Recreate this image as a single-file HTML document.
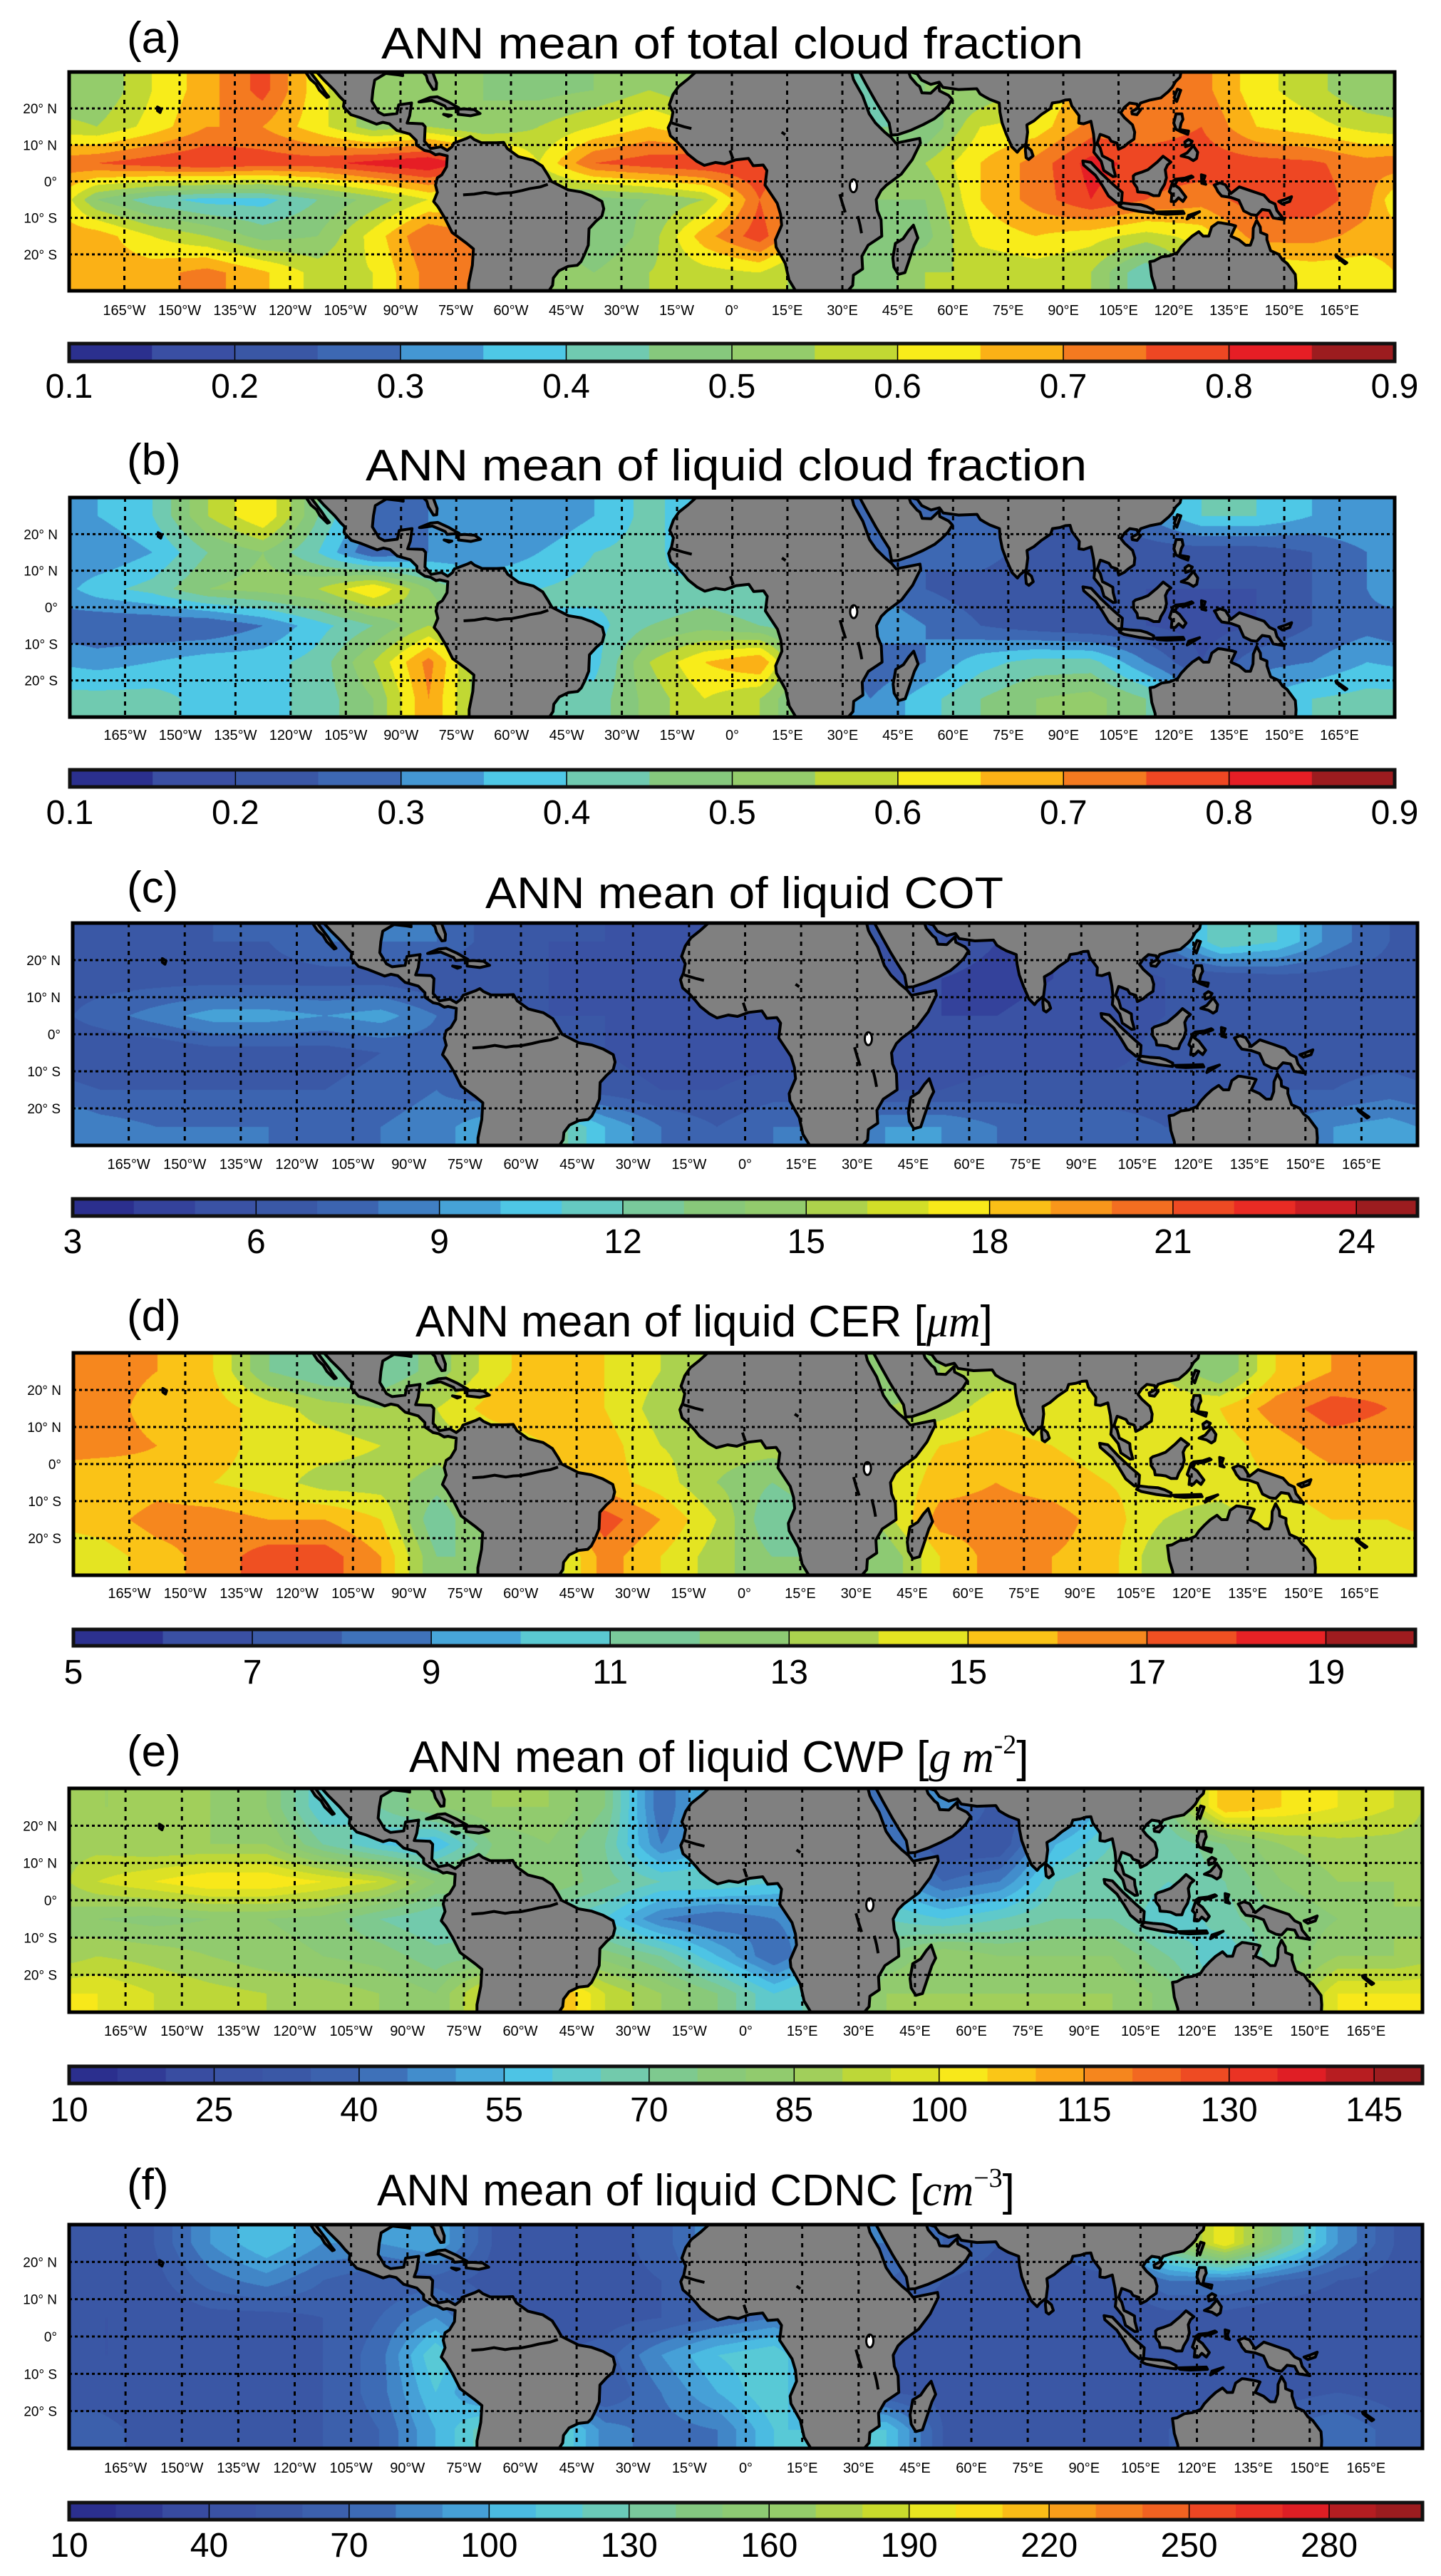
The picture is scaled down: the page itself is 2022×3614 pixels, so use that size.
<!DOCTYPE html>
<html><head><meta charset="utf-8">
<style>
body{margin:0;background:#fff}
#root{position:relative;width:2022px;height:3614px;background:#fff;overflow:hidden}
canvas{position:absolute}
#ov{position:absolute;left:0;top:0}
text{font-family:"Liberation Sans","DejaVu Sans",sans-serif;fill:#000}
</style></head>
<body>
<div id="root">
<svg id="ov" width="2022" height="3614" xmlns="http://www.w3.org/2000/svg"></svg>
</div>
<script>
// ---------- DATA ----------
const lonCenters = [-172.5,-157.5,-142.5,-127.5,-112.5,-97.5,-82.5,-67.5,-52.5,-37.5,-22.5,-7.5,7.5,22.5,37.5,52.5,67.5,82.5,97.5,112.5,127.5,142.5,157.5,172.5];
const latCenters = [25,15,5,-5,-15,-25];

const totalCloudFraction = [
[.5,.6,.68,.77,.62,.52,.5,.5,.48,.5,.55,.5,.5,.45,.4,.5,.5,.6,.68,.72,.72,.62,.57,.5],
[.55,.62,.7,.7,.62,.52,.55,.5,.55,.6,.65,.6,.6,.5,.45,.45,.6,.62,.72,.72,.75,.65,.62,.58],
[.75,.78,.8,.78,.78,.82,.85,.75,.6,.75,.78,.8,.8,.7,.55,.55,.65,.72,.82,.78,.78,.77,.76,.72],
[.5,.42,.38,.38,.45,.52,.6,.6,.5,.48,.5,.55,.75,.6,.5,.5,.65,.72,.8,.75,.72,.78,.78,.72],
[.68,.6,.55,.48,.5,.62,.75,.7,.5,.45,.52,.68,.78,.6,.45,.48,.62,.65,.62,.58,.62,.72,.72,.68],
[.68,.68,.72,.66,.58,.6,.72,.7,.55,.5,.55,.58,.6,.5,.45,.55,.55,.57,.55,.4,.6,.6,.62,.62]];
const liquidCloudFraction = [
[.35,.4,.55,.65,.45,.3,.3,.35,.3,.35,.42,.35,.35,.3,.25,.3,.25,.25,.25,.3,.4,.4,.35,.35],
[.3,.35,.45,.5,.4,.25,.3,.3,.35,.4,.42,.35,.35,.3,.25,.25,.28,.22,.2,.22,.22,.22,.25,.3],
[.38,.42,.5,.52,.55,.65,.5,.4,.4,.42,.4,.42,.4,.35,.3,.25,.22,.2,.2,.2,.2,.2,.25,.3],
[.25,.25,.25,.3,.38,.45,.55,.45,.4,.38,.45,.48,.45,.4,.35,.3,.25,.22,.2,.2,.18,.2,.25,.28],
[.33,.35,.38,.38,.42,.55,.72,.5,.4,.38,.55,.65,.7,.4,.25,.3,.38,.42,.42,.3,.2,.28,.3,.35],
[.42,.42,.38,.38,.42,.5,.7,.5,.4,.42,.52,.6,.55,.4,.3,.38,.45,.5,.52,.45,.3,.35,.4,.42]];
const liquidCOT = [
[6.5,6.5,7,7,8,8,8,6.5,6,6,5.5,6,6,6,6,6,5,5,6,8,12,11,8.5,7],
[6.5,6.5,6.5,6.5,6.5,6.5,6,6,6,5.5,5,5.5,5.5,5,5,5,4.5,5,5,6,6,6.5,6.5,6.5],
[7.5,8.5,9.5,9.5,9,9.5,8,7,6,6,6,5.5,5,5,5,5,5,5.5,5.5,6,6,6,6,6.5],
[6,6,6.5,6.5,6.5,7,7.5,7,6.5,6,5.5,5.5,5.5,5.5,5.5,5,5.5,5.5,5.5,6.5,6,6.5,6.5,6.5],
[7,7,7,7,7,7.5,8,7,6.5,6.5,6,6,6.5,6.5,6,6,6.5,6.5,6.5,6.5,6,7,7,7.5],
[8.5,8,8,8,7.5,8,8.5,10,13,10,8,7,8,8,9,9,8,7.5,7.5,7,7,8,9,9.5]];
const liquidCER = [
[16.5,16,15,12,11,11,12.5,14.5,16,15,14,13,13,12,12,13,13.5,14,14,14,12,15,16,16.5],
[16.5,15.5,15.5,14.5,13.5,13,14,15.5,16,15,13.5,13,13,13,13,13.5,14.5,14,14.5,14.5,15,16.5,17.5,17],
[16.5,16,15.5,14.5,14.5,14,13.5,14,15,15.5,14,13.5,13.5,14,14,15,15.5,15,14.5,14,14.5,15.5,16.5,16.5],
[15,15.5,15,14.5,13.5,13.5,12.5,14,15,15.5,14.5,13,12,13,14,15.5,16,15.5,15,14.5,14.5,15,15.5,15.5],
[15.5,16.5,16.5,16,16,15,11,14,16,17.5,16,14,11,12,13.5,16.5,16.5,16.5,15.5,14,13.5,14.5,15,15],
[14.5,15.5,16.5,17.5,17.5,16,12,12,13,16.5,15,13.5,12,12,12,15,16.5,16,15.5,13,13,14.5,14.5,14.5]];
const liquidCWP = [
[85,85,85,80,60,70,80,85,85,75,40,60,60,50,40,50,30,40,60,75,110,105,100,95],
[88,85,85,85,70,60,55,75,80,70,45,55,55,50,45,30,30,55,65,65,75,85,88,88],
[95,100,105,105,100,95,80,80,80,72,65,65,60,55,55,40,45,65,70,65,70,80,85,85],
[80,78,80,80,78,70,65,65,65,60,45,40,45,50,65,60,65,70,70,60,68,75,80,85],
[90,88,85,82,80,78,72,75,80,78,70,55,40,55,75,85,80,80,80,70,60,75,85,85],
[100,95,92,90,88,85,80,100,115,95,85,75,60,70,85,85,85,85,85,78,60,80,100,100]];
const liquidCDNC = [
[55,60,90,110,90,90,100,60,55,55,65,90,90,80,80,70,60,60,80,150,200,140,90,60],
[55,55,75,85,70,60,65,55,55,55,60,80,80,70,70,60,55,55,55,80,80,70,60,55],
[50,50,55,55,60,70,90,60,50,55,60,70,80,65,60,55,50,50,50,55,55,50,50,50],
[50,50,50,55,60,75,120,80,60,65,90,110,120,80,55,55,50,50,50,60,60,55,50,50],
[55,50,50,55,60,75,110,80,60,60,80,100,120,80,60,55,55,50,50,55,55,55,60,55],
[65,55,55,55,60,70,100,130,130,85,75,80,110,110,110,60,55,55,55,60,70,70,80,65]];

const ticksA = [0.1,0.2,0.3,0.4,0.5,0.6,0.7,0.8,0.9];
const ticksC = [3,6,9,12,15,18,21,24];
const ticksD = [5,7,9,11,13,15,17,19];
const ticksE = [10,25,40,55,70,85,100,115,130,145];
const ticksF = [10,40,70,100,130,160,190,220,250,280];
const lonTickValues = [-165,-150,-135,-120,-105,-90,-75,-60,-45,-30,-15,0,15,30,45,60,75,90,105,120,135,150,165];
const latTickValues = [20,10,0,-10,-20];

// ---------- COLORMAP ----------
const cmT = [0.03,0.094,0.156,0.22,0.281,0.344,0.406,0.47,0.54,0.6,0.656,0.719,0.781,0.844,0.906,0.969];
const cmC = ['#2b2f8e','#3a4fa3','#3a57a5','#3d68b3','#4497d3','#4ec8e6','#70cab0','#86c87c','#96cc68','#c6d92d','#f8ec1a','#fbb116','#f47a20','#ee4723','#e61e25','#9c1c1f'];
function hex(h){return [parseInt(h.substr(1,2),16),parseInt(h.substr(3,2),16),parseInt(h.substr(5,2),16)];}
function cmap(t){
  if(t<=cmT[0]) return hex(cmC[0]);
  for(let i=1;i<cmT.length;i++){ if(t<=cmT[i]){const f=(t-cmT[i-1])/(cmT[i]-cmT[i-1]);const a=hex(cmC[i-1]),b=hex(cmC[i]);return [0,1,2].map(k=>Math.round(a[k]+(b[k]-a[k])*f));}}
  return hex(cmC[cmC.length-1]);
}

// ---------- PANELS (layout) ----------
const panels = [
 {key:'a',grid:totalCloudFraction,vmin:0.1,vmax:0.9,step:0.05,ticks:ticksA,fmt:v=>v.toFixed(1),L:97,R:1957,T:101,B:408,titleY:82,titleX:535,titleW:985,title:'ANN mean of total cloud fraction',lonY:442,cbT:482,cbB:507,cbY:558},
 {key:'b',grid:liquidCloudFraction,vmin:0.1,vmax:0.9,step:0.05,ticks:ticksA,fmt:v=>v.toFixed(1),L:98,R:1957,T:698,B:1006,titleY:674,titleX:513,titleW:1012,title:'ANN mean of liquid cloud fraction',lonY:1038,cbT:1080,cbB:1104,cbY:1156},
 {key:'c',grid:liquidCOT,vmin:3,vmax:25,step:1,ticks:ticksC,fmt:v=>String(v),L:102,R:1989,T:1295,B:1607,titleY:1274,titleX:681,titleW:727,title:'ANN mean of liquid COT',lonY:1640,cbT:1682,cbB:1706,cbY:1758},
 {key:'d',grid:liquidCER,vmin:5,vmax:20,step:1,ticks:ticksD,fmt:v=>String(v),L:103,R:1986,T:1898,B:2210,titleY:1875,titleX:583,title:'ANN mean of liquid CER ',unit:'d',lonY:2242,cbT:2286,cbB:2309,cbY:2362},
 {key:'e',grid:liquidCWP,vmin:10,vmax:150,step:5,ticks:ticksE,fmt:v=>String(v),L:97,R:1996,T:2509,B:2823,titleY:2486,titleX:574,title:'ANN mean of liquid CWP ',unit:'e',lonY:2856,cbT:2899,cbB:2923,cbY:2976},
 {key:'f',grid:liquidCDNC,vmin:10,vmax:300,step:10,ticks:ticksF,fmt:v=>String(v),L:97,R:1996,T:3121,B:3435,titleY:3094,titleX:529,title:'ANN mean of liquid CDNC ',unit:'f',lonY:3469,cbT:3511,cbB:3535,cbY:3587}
];

// ---------- COASTLINES (geometry) ----------
const land = {
 baja:[[-115.8,30],[-114.5,28],[-113,26.7],[-112,25],[-110,23],[-109.5,23.2],[-110.3,24.2],[-111.5,26],[-113,28],[-114.5,30]],
 americas:[[-112.8,30],[-89.5,30],[-89.4,29],[-90.5,29.2],[-94,29.6],[-97,27.8],[-97.5,25],[-97.8,22],[-96,19],[-94.5,18.2],[-91,18.6],[-90.5,21],[-87,21.5],[-87.5,18],[-88.2,16],[-84,15.8],[-83.3,15],[-83.5,11],[-81.8,9],[-79,9.5],[-77.3,8.5],[-76,9.5],[-75.5,10.5],[-72,11.8],[-71,12.3],[-70,11.5],[-68,10.6],[-64,10.6],[-62,10.7],[-61,9],[-58,6.8],[-54,5.8],[-51.5,4.2],[-50,1.8],[-49,0],[-44.5,-2.3],[-41,-2.9],[-38,-4],[-35.3,-5.5],[-34.8,-7.5],[-35.3,-9.5],[-37,-11],[-38.8,-13],[-39,-17.5],[-40,-20],[-41,-22],[-42,-23],[-44.5,-23.3],[-47,-24.5],[-48.5,-26.5],[-48.7,-28.5],[-49.7,-30],[-71.5,-30],[-71.5,-28],[-70.5,-23],[-70.2,-18.5],[-72,-17],[-76,-14],[-78,-10],[-79.8,-7],[-81,-5.5],[-80,-3],[-80.5,-1],[-80,1],[-78.8,1.8],[-77.5,4],[-77.3,7],[-79.5,7.5],[-80.5,7.3],[-82,8.2],[-83.5,8.5],[-85.7,10],[-85.7,11.2],[-87.5,13],[-91,14],[-93,15.8],[-94.8,16.2],[-96.5,15.7],[-98,16.3],[-101,17.5],[-103.5,18.3],[-105.5,20.5],[-105.3,22],[-106.5,23.2],[-108,25],[-109.5,26.5],[-111,28]],
 florida:[[-84,30],[-83,29],[-82.6,27.5],[-81.2,25.2],[-80.3,25.3],[-80.2,27],[-81.3,30]],
 cuba:[[-85,21.8],[-82,23],[-80,23.2],[-77,21.8],[-74.2,20.2],[-77.5,19.9],[-78,20.7],[-81.5,22.2],[-84.5,21.8]],
 hispaniola:[[-74.4,19.8],[-72.8,19.9],[-70,19.7],[-68.4,18.6],[-71,18],[-74.4,18.4]],
 jamaica:[[-78.3,18.4],[-76.2,18.1],[-77,17.8]],
 hawaii:[[-156,20.4],[-155,19.8],[-155.3,18.9],[-156,19.4]],
 africa:[[-9.8,30],[32.5,30],[33,28],[33.5,27],[35.5,23.5],[37.3,18.5],[39,16],[41.5,13.5],[43.3,12],[44.5,10.5],[51,11.8],[51.2,10.5],[49,6],[46,2],[42,-1],[40.5,-2.5],[39.2,-5],[39.5,-8],[40.5,-10.5],[40.7,-15],[37,-17.5],[35.3,-20.5],[35.5,-24],[33,-25.7],[32.8,-28.5],[31.5,-30],[17.3,-30],[15.5,-27],[14.5,-22.5],[12,-18],[11.8,-16],[13.5,-12],[13.2,-9],[12.3,-6],[9,-1],[9.5,3],[8.5,4.5],[5.8,4.3],[4.5,6.3],[1,5.9],[-2,4.8],[-4.5,5.2],[-7.5,4.4],[-9.5,5.5],[-12,7.5],[-13.2,9],[-15,11],[-16.7,12.5],[-17.3,14.7],[-16.5,16.5],[-16,19],[-17,21],[-16,23.8],[-14.5,26],[-12,28]],
 madagascar:[[49.3,-12],[50.5,-15.5],[49.5,-17.5],[48,-22],[47,-25],[45.2,-25.5],[44,-23.5],[43.7,-21],[44.4,-17],[46.5,-15.7],[48,-13.5]],
 arabia:[[34.6,30],[34.9,29.5],[36.5,26.5],[39,22],[40.8,19],[42.7,16],[43.3,12.7],[45,12.8],[48.5,14],[52,15.6],[55,17.2],[56.8,18.7],[58.6,20.5],[59.8,22.5],[58.8,23.6],[56.4,24.8],[56.2,26.3],[54,24.2],[51.6,24.3],[51,26],[50.2,26.6],[48.5,28.6],[48,30]],
 asia:[[48.5,30],[50.3,29.5],[51.5,27.8],[54,26.6],[56.3,27.2],[57.3,25.8],[61.5,25.2],[66.5,25.4],[67.4,24],[68.7,23.2],[70,22.5],[72.6,21.5],[72.8,19],[73.4,16],[74.5,13],[76,9.5],[77.5,8],[78.2,8.9],[79.9,10.3],[80.3,13.5],[80.1,15.5],[82,16.6],[84,18.3],[86.5,20],[87,21.5],[89,21.8],[90.5,22.3],[91.8,22.4],[92.3,20.7],[94.3,18],[94.2,16],[95.5,15.8],[97.5,16.5],[98.2,13],[98.5,10],[98.3,8],[100.3,5.5],[101,3],[103.5,1.3],[104.2,1.4],[103.5,4],[103.4,5.5],[102.2,6.2],[100.6,7],[100,9.2],[99.2,10.5],[100,12.9],[100.9,12.6],[102.4,12],[103,11],[104.6,10.5],[105,8.8],[106.6,9.6],[107.6,10.5],[109.2,11.6],[109.4,13.5],[108.8,15.5],[106.6,17.5],[105.6,18.8],[106.6,20.3],[108,21.5],[110,21.2],[110.3,20.3],[111,21.5],[113.5,22.3],[116.5,22.9],[118.5,24.6],[119.6,25.8],[120.5,27.4],[121.7,28.6],[122,30]],
 srilanka:[[79.8,9.8],[81.3,8.5],[81.8,7],[80.6,6],[79.9,6.5],[79.7,8.5]],
 sumatra:[[95.3,5.6],[97.5,5.2],[100.3,2.2],[103.7,-1],[106,-3],[105.8,-5.8],[104.6,-5.9],[102.3,-4],[100.5,-1],[98.7,1.7],[95.5,4.5]],
 java:[[105.2,-6.8],[106,-5.9],[108.3,-6.2],[111,-6.4],[112.7,-6.9],[114.5,-7.8],[114.4,-8.7],[110.5,-8.2],[106.5,-7.4]],
 borneo:[[109,1.5],[109.6,2],[111.2,2.5],[113,3.2],[115.5,5.3],[117.1,6.9],[119.2,5.3],[118.3,4.5],[117.7,3.2],[118,1],[117.5,-0.8],[116.5,-2.5],[116,-3.9],[114.5,-3.9],[113,-3.2],[111.7,-3],[110.2,-2.9],[110,-1.7],[109.1,-0.4]],
 sulawesi:[[119.3,-5.5],[119.5,-3.5],[118.8,-2.8],[119.8,0.1],[120.5,0.6],[123,0.9],[124.8,1.5],[125.2,1.2],[123,0.3],[121,0.4],[120.3,-1],[121.5,-1.9],[123.3,-4.3],[122.5,-5.5],[121.3,-4.5],[120.4,-5.5]],
 luzon:[[120.6,18.5],[122.2,18.5],[122.5,17],[122,16],[121.6,14.2],[124,13.8],[123.8,12.9],[122,13.6],[120.6,14.3],[120,16]],
 visayas:[[123,10.8],[124,11.5],[125,11],[124.5,10],[123.2,9.5]],
 mindanao:[[122,7],[123.6,7.8],[125.3,9.8],[126.5,8],[126.2,6.3],[125.3,5.7],[124,6.5]],
 halmahera:[[127.5,1.8],[128.5,1.5],[128,0],[128.7,-0.8],[127.6,-0.5]],
 newguinea:[[131,-1],[132.5,-0.4],[134,-0.9],[135.5,-3.3],[137.8,-1.5],[141,-2.6],[144.5,-3.8],[146,-5.5],[147.5,-6.2],[148,-8],[150,-10.5],[147,-10],[146,-8],[144,-7.7],[142.5,-9.3],[141,-9.1],[139,-8.1],[137.7,-5.2],[135.5,-4.4],[133,-4],[132,-2.8],[131.5,-1.8]],
 newbritain:[[148.5,-5.5],[150,-5],[152,-4.2],[151.5,-5.5],[149.5,-6.2]],
 timor:[[124,-9.3],[127,-8.3],[125,-9.5],[123.6,-10.3]],
 sunda:[[115,-8.4],[119,-8.3],[122.5,-8.2],[122.8,-8.8],[118,-9],[115.5,-8.8]],
 taiwan:[[120.1,23],[121,25.3],[121.9,25],[120.8,21.9]],
 hainan:[[108.6,19.2],[110.3,20.1],[111,19.6],[110,18.3],[108.7,18.5]],
 australia:[[113.5,-22],[114,-26],[114.9,-29],[115,-30],[153.1,-30],[153.2,-28],[153,-25.5],[150.8,-22.5],[149.5,-21.5],[148.5,-20],[146.3,-19],[145.3,-16],[145.3,-14.7],[143.6,-14],[143.5,-12.5],[142.5,-10.7],[141.6,-12.8],[141.5,-15.5],[140.8,-17.5],[139.5,-17.5],[137.7,-16],[135.5,-15],[136.8,-12.2],[135.8,-11.9],[133,-11.4],[132,-11.3],[130.3,-12.5],[129.5,-15],[128,-15],[126.8,-13.8],[125,-15],[123.5,-16.4],[122,-18],[121,-19.5],[118.8,-20.4],[116.7,-20.7],[114.7,-21.8]],
 newcaledonia:[[164,-20.2],[167,-22.3],[166.5,-22.6],[164.2,-20.7]]
};
const rivers = {
 amazon:[[-73,-3.7],[-70,-3.5],[-67,-3],[-64,-3.5],[-62,-3.2],[-60,-3.1],[-57,-2.5],[-55,-2],[-52,-1.5],[-50,-0.8]],
 tanganyika:[[29.3,-3.5],[30,-6],[30.8,-8.5]],
 malawi:[[34.2,-9.5],[34.8,-12],[35.2,-14.2]],
 chad:[[13.5,13.5],[14.5,12.8]],
 senegal:[[-16.3,16],[-13,15],[-11,14.5]],
 volta:[[-0.5,8.5],[0,7],[0.3,6.2]]
};

// ---------- RENDER ----------
const NS='http://www.w3.org/2000/svg';
const svg=document.getElementById('ov');
const root=document.getElementById('root');
function el(tag,attrs,parent){const e=document.createElementNS(NS,tag);for(const k in attrs)e.setAttribute(k,attrs[k]);(parent||svg).appendChild(e);return e;}

function sample(grid,lon,lat){
  let fx=(lon-lonCenters[0])/15; let i0=Math.floor(fx); const tx=fx-i0;
  const n=lonCenters.length; const a=((i0%n)+n)%n, b=(a+1)%n;
  let fy=(latCenters[0]-lat)/10; fy=Math.max(0,Math.min(latCenters.length-1,fy));
  const j0=Math.floor(fy), j1=Math.min(j0+1,latCenters.length-1), ty=fy-j0;
  const v0=grid[j0][a]*(1-tx)+grid[j0][b]*tx, v1=grid[j1][a]*(1-tx)+grid[j1][b]*tx;
  return v0*(1-ty)+v1*ty;
}

panels.forEach(p=>{
  const W=p.R-p.L, H=p.B-p.T, N=Math.round((p.vmax-p.vmin)/p.step);
  const cols=[]; for(let i=0;i<N;i++) cols.push(cmap((i+0.5)/N));
  const X=lon=>p.L+(lon+180)/360*W, Y=lat=>p.T+(30-lat)/60*H;

  const cv=document.createElement('canvas');
  cv.width=W; cv.height=H; cv.style.left=p.L+'px'; cv.style.top=p.T+'px';
  
  
  root.insertBefore(cv,svg);
  const ctx=cv.getContext('2d'); const img=ctx.createImageData(W,H);
  for(let y=0;y<H;y++){const lat=30-(y+0.5)/H*60;
    for(let x=0;x<W;x++){const lon=-180+(x+0.5)/W*360;
      const v=sample(p.grid,lon,lat);
      let k=Math.floor((v-p.vmin)/p.step); k=Math.max(0,Math.min(N-1,k));
      const c=cols[k], o=(y*W+x)*4; img.data[o]=c[0];img.data[o+1]=c[1];img.data[o+2]=c[2];img.data[o+3]=255;}}
  ctx.putImageData(img,0,0);

  const g=el('g',{});
  
  
  const clipId='clip'+p.key;
  const cp=el('clipPath',{id:clipId},g); el('rect',{x:p.L,y:p.T,width:W,height:H},cp);
  const mg=el('g',{'clip-path':'url(#'+clipId+')'},g);
  
  
  for(const name in land){
    const pts=land[name].map(q=>X(q[0]).toFixed(1)+','+Y(q[1]).toFixed(1)).join(' ');
    const poly=el('polygon',{points:pts,fill:'#808080',stroke:'#000','stroke-width':4,'stroke-linejoin':'round'},mg);
    
    
  }
  const lake=el('ellipse',{cx:X(33),cy:Y(-1.2),rx:5,ry:9,fill:'#fff',stroke:'#000','stroke-width':3},mg);
  
  
  for(const name in rivers){
    const pts=rivers[name].map(q=>X(q[0]).toFixed(1)+','+Y(q[1]).toFixed(1)).join(' ');
    const pl=el('polyline',{points:pts,fill:'none',stroke:'#000','stroke-width':4},mg);
    
    
  }
  lonTickValues.forEach(lon=>{
    const l=el('line',{x1:X(lon),x2:X(lon),y1:p.T,y2:p.B,stroke:'#000','stroke-width':3,'stroke-dasharray':'6 7'},g);
    
    
    const t=el('text',{x:X(lon),y:p.lonY,'font-size':20,'text-anchor':'middle'},g);
    t.textContent=lon===0?'0°':(Math.abs(lon)+'°'+(lon<0?'W':'E'));
    
    
  });
  latTickValues.forEach(lat=>{
    const l=el('line',{x1:p.L,x2:p.R,y1:Y(lat),y2:Y(lat),stroke:'#000','stroke-width':3,'stroke-dasharray':'4 4'},g);
    
    
    const t=el('text',{x:p.L-17,y:Y(lat)+7,'font-size':19,'text-anchor':'end'},g);
    t.textContent=lat===0?'0°':(Math.abs(lat)+'° '+(lat>0?'N':'S'));
    
    
  });
  const fr=el('rect',{x:p.L,y:p.T,width:W,height:H,fill:'none',stroke:'#000','stroke-width':5},g);
  
  

  const pl=el('text',{x:178,y:p.titleY-8,'font-size':62},g);
  pl.textContent='('+p.key+')';
  
  
  const tt=el('text',{x:p.titleX,y:p.titleY,'font-size':62},g);
  
  
  if(p.titleW){tt.setAttribute('textLength',p.titleW);tt.setAttribute('lengthAdjust','spacingAndGlyphs');tt.textContent=p.title;}
  else{
    tt.appendChild(document.createTextNode(p.title+'['));
    const it=el('tspan',{'font-family':'Liberation Serif, serif','font-style':'italic'},tt);
    if(p.unit==='d'){it.textContent='μm';tt.appendChild(document.createTextNode(']'));}
    else{
      it.textContent=p.unit==='e'?'g m':'cm';
      const sp=el('tspan',{dy:-26,'font-size':38,'font-family':'Liberation Serif, serif'},tt); sp.textContent=p.unit==='e'?'-2':'−3';
      const cl=el('tspan',{dy:26},tt); cl.textContent=']';
    }
  }

  const cb=el('g',{},g);
  
  
  const cx=v=>p.L+(v-p.vmin)/(p.vmax-p.vmin)*W;
  for(let i=0;i<N;i++){
    const r=el('rect',{x:cx(p.vmin+i*p.step),y:p.cbT,width:W/N+0.6,height:p.cbB-p.cbT,fill:'rgb('+cols[i].join(',')+')'},cb);
    
    
  }
  p.ticks.forEach(v=>{
    const s=el('line',{x1:cx(v),x2:cx(v),y1:p.cbT,y2:p.cbB,stroke:'#000','stroke-width':1.5},cb);
    
    
    const t=el('text',{x:cx(v),y:p.cbY,'font-size':48,'text-anchor':'middle'},cb);
    t.textContent=p.fmt(v);
    
    
  });
  const cf=el('rect',{x:p.L,y:p.cbT,width:W,height:p.cbB-p.cbT,fill:'none',stroke:'#111','stroke-width':5},cb);
  
  
});
</script>
</body></html>
